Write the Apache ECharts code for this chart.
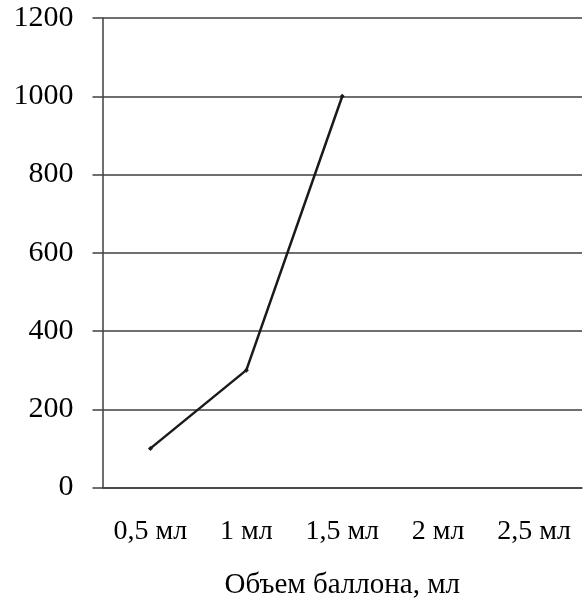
<!DOCTYPE html>
<html>
<head>
<meta charset="utf-8">
<script src="https://cdn.jsdelivr.net/npm/echarts@6/dist/echarts.min.js"></script>
<style>
  html, body { margin: 0; padding: 0; background: #fff; }
  #chart { width: 585px; height: 602px; }
</style>
</head>
<body>
<div id="chart"></div>
<script>
// Volume categories along the horizontal axis
const categories = ['0,5 мл', '1 мл', '1,5 мл', '2 мл', '2,5 мл'];
// Measured values per volume
const values = [100, 300, 1000];
// Vertical axis range and step
const yMin = 0;
const yMax = 1200;
const yStep = 200;
const xTitle = 'Объем баллона, мл';

const FONT = '"Liberation Serif", "Times New Roman", serif';

const chart = echarts.init(document.getElementById('chart'), null, { renderer: 'canvas' });
chart.setOption({
  animation: false,
  backgroundColor: '#ffffff',
  grid: {
    left: 102.5, right: 3, top: 18, bottom: 114.5,
    containLabel: false,
    outerBoundsMode: 'none'
  },
  xAxis: {
    type: 'category',
    data: categories,
    boundaryGap: true,
    axisLine: { show: true, lineStyle: { color: '#3f3f3f', width: 1.5 } },
    axisTick: { show: false },
    axisLabel: { color: '#000', fontFamily: FONT, fontSize: 28, margin: 30, interval: 0 },
    name: xTitle,
    nameLocation: 'middle',
    nameGap: 83,
    nameTextStyle: { color: '#000', fontFamily: FONT, fontSize: 29 }
  },
  yAxis: {
    type: 'value',
    min: yMin,
    max: yMax,
    interval: yStep,
    axisLine: { show: true, lineStyle: { color: '#3f3f3f', width: 1.5 } },
    axisTick: { show: true, inside: false, length: 10, lineStyle: { color: '#3f3f3f', width: 1.5 } },
    axisLabel: {
      color: '#000', fontFamily: FONT, fontSize: 30, margin: 29,
      formatter: (v) => String(v)
    },
    splitLine: { show: true, lineStyle: { color: '#3f3f3f', width: 1.5 } }
  },
  series: [{
    type: 'line',
    data: values,
    symbol: 'diamond',
    symbolSize: 5,
    showSymbol: true,
    itemStyle: { color: '#1a1a1a' },
    lineStyle: { color: '#1a1a1a', width: 2.5 }
  }]
});
</script>
</body>
</html>
